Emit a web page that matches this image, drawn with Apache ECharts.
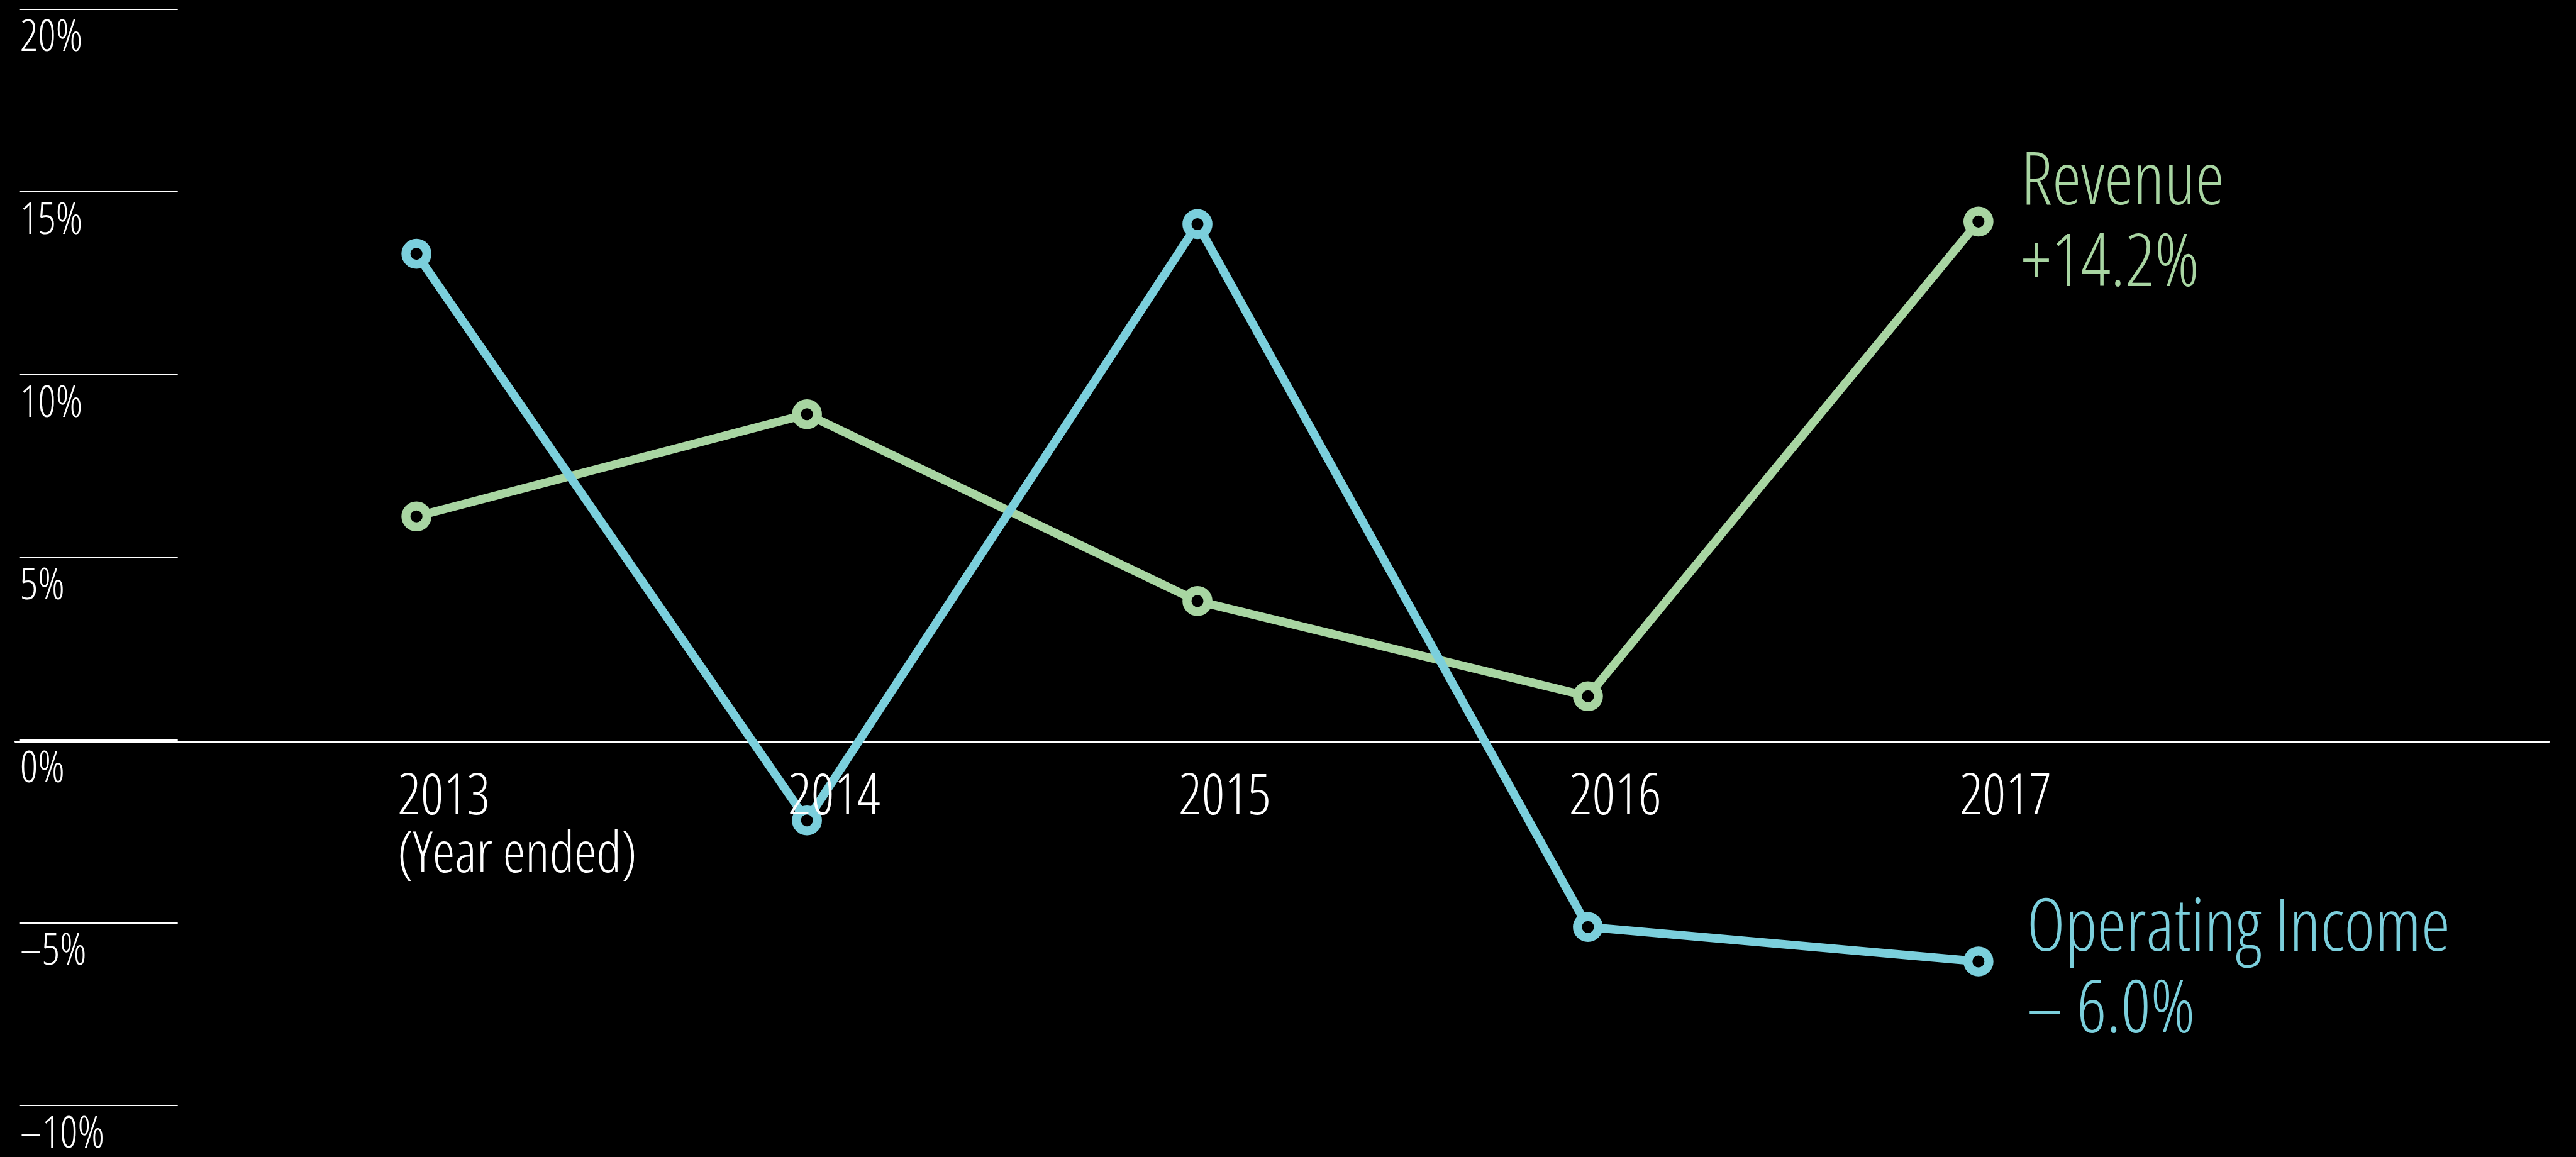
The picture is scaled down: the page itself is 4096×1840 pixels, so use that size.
<!DOCTYPE html>
<html>
<head>
<meta charset="utf-8">
<style>
  html, body { margin: 0; padding: 0; background: #000; }
  #chart { width: 4096px; height: 1840px; }
</style>
<script src="https://cdn.jsdelivr.net/npm/echarts@6/dist/echarts.min.js"></script>
</head>
<body>
<div id="chart"></div>
<script>
// ---- data ----
var years = [2013, 2014, 2015, 2016, 2017];
var xLabels = ['2013\n(Year ended)', '2014', '2015', '2016', '2017'];
var revenue = [6.15, 8.94, 3.84, 1.24, 14.2];
var operatingIncome = [13.32, -2.15, 14.13, -5.06, -6.0];
var seriesNames = ['Revenue', 'Operating Income'];
var endChanges = ['+14.2%', '\u2013 6.0%'];
var yTicks = [-10, -5, 0, 5, 10, 15, 20];
var yTickLabels = ['\u201310%', '\u20135%', '0%', '5%', '10%', '15%', '20%'];

var FONT = "'Open Sans', 'Roboto', sans-serif";
var WEIGHT = '300 condensed';
var GREEN = '#a8d5a2';
var CYAN = '#7bcfdc';

function pairs(vals) { return years.map(function (y, i) { return [y, vals[i]]; }); }

var chart = echarts.init(document.getElementById('chart'), null, { renderer: 'canvas' });

function lineSeries(name, vals, color, idx, dist, dy) {
  return {
    type: 'line',
    name: name,
    xAxisIndex: 0, yAxisIndex: 0,
    data: pairs(vals),
    symbol: 'circle',
    symbolSize: 33.4,
    showSymbol: true,
    lineStyle: { color: color, width: 13.5 },
    itemStyle: { color: '#000', borderColor: color, borderWidth: 14.3 },
    emphasis: { disabled: true },
    z: 3,
    endLabel: {
      show: true,
      formatter: function () { return seriesNames[idx] + '\n' + endChanges[idx]; },
      color: color,
      fontFamily: FONT,
      fontStyle: 'normal',
      fontWeight: WEIGHT,
      fontSize: 116,
      lineHeight: 130,
      align: 'left',
      verticalAlign: 'middle',
      distance: dist,
      offset: [0, dy]
    }
  };
}

var option = {
  backgroundColor: '#000',
  animation: false,
  grid: [
    { left: 24.5, width: 4028.5, top: 14.5, bottom: 78, containLabel: false },
    { left: 31.7, width: 251, top: 14.5, bottom: 78, containLabel: false }
  ],
  xAxis: [
    {
      type: 'value', gridIndex: 0, min: 2011.973, max: 2018.461,
      axisLine: { show: true, onZero: true, lineStyle: { color: '#fff', width: 3 } },
      axisTick: { show: false }, axisLabel: { show: false }, splitLine: { show: false }
    },
    {
      type: 'value', gridIndex: 1, min: 0, max: 1, show: false
    }
  ],
  yAxis: [
    {
      type: 'value', gridIndex: 0, min: -10, max: 20, interval: 5,
      axisLine: { show: false }, axisTick: { show: false }, axisLabel: { show: false }, splitLine: { show: false }
    },
    {
      type: 'value', gridIndex: 1, min: -10, max: 20, interval: 5,
      axisLine: { show: false }, axisTick: { show: false },
      splitLine: { show: true, lineStyle: { color: '#fff', width: 2 } },
      axisLabel: {
        show: true, inside: true, margin: 0,
        align: 'left', verticalAlign: 'top',
        padding: [12, 0, 0, 0],
        color: '#fff', fontFamily: FONT, fontStyle: 'normal', fontWeight: WEIGHT,
        fontSize: 70, lineHeight: 70,
        showMinLabel: true, showMaxLabel: true,
        formatter: function (v) {
          var i = yTicks.indexOf(Math.round(v));
          return i >= 0 ? yTickLabels[i] : '';
        }
      }
    }
  ],
  series: [
    lineSeries(seriesNames[0], revenue, GREEN, 0, 68, 5),
    lineSeries(seriesNames[1], operatingIncome, CYAN, 1, 77, 15),
    {
      type: 'scatter', name: 'years',
      xAxisIndex: 0, yAxisIndex: 0,
      data: years.map(function (y) { return [y, 0]; }),
      symbolSize: 0,
      itemStyle: { color: '#000', opacity: 0 },
      emphasis: { disabled: true },
      silent: true,
      z: 5,
      label: {
        show: true,
        position: 'bottom',
        distance: 0,
        align: 'left',
        verticalAlign: 'top',
        offset: [-30, 44],
        color: '#fff',
        opacity: 1,
        fontFamily: FONT,
        fontStyle: 'normal',
        fontWeight: WEIGHT,
        fontSize: 90,
        lineHeight: 92,
        formatter: function (p) { return xLabels[p.dataIndex]; }
      }
    }
  ]
};
chart.setOption(option);
</script>
</body>
</html>
